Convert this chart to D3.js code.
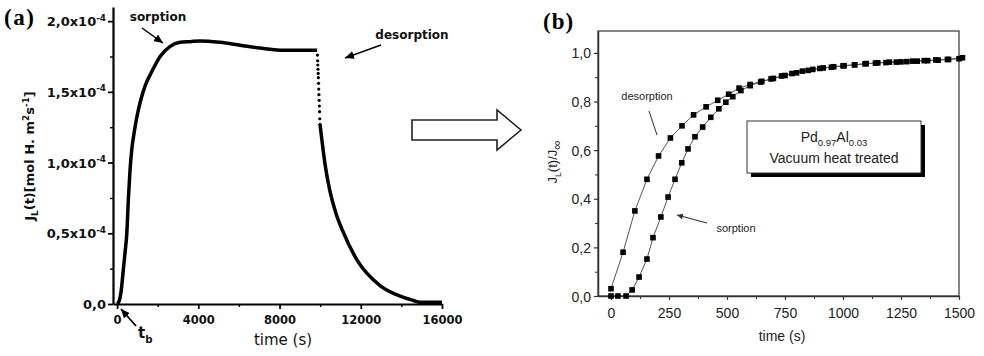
<!DOCTYPE html>
<html>
<head>
<meta charset="utf-8">
<script src="https://cdn.jsdelivr.net/npm/d3@7"></script>
<style>
body { margin: 0; background: #fff; }
</style>
</head>
<body>
<script>
// ---- panel (a): flux J_L(t), units of 1e-4 mol H m-2 s-1
const sorpTime = [0, 100, 200, 300, 390, 480, 560, 640, 730, 850, 1000, 1180, 1400, 1700, 2120, 2600, 3100, 3600, 4090, 5070, 6060, 7040, 8030, 9010, 9850];
const sorpFlux = [0, 0.02, 0.09, 0.23, 0.36, 0.5, 0.75, 0.95, 1.1, 1.22, 1.34, 1.45, 1.55, 1.64, 1.75, 1.82, 1.85, 1.855, 1.86, 1.85, 1.83, 1.81, 1.795, 1.795, 1.795];
// fast drop at the start of desorption (seen as separate dots)
const dropTime = [9865, 9875, 9884, 9893, 9903, 9912, 9921, 9930, 9940, 9950, 9960, 9971, 9983, 9995];
const dropFlux = [1.76, 1.72, 1.69, 1.66, 1.63, 1.6, 1.56, 1.52, 1.48, 1.44, 1.4, 1.36, 1.31, 1.27];
const desTime = [9995, 10250, 10480, 10780, 11100, 11820, 12950, 13940, 14580, 14900, 15400, 16000];
const desFlux = [1.27, 0.98, 0.8, 0.64, 0.52, 0.31, 0.13, 0.055, 0.025, 0.012, 0.012, 0.012];
const xTicksA = [0, 4000, 8000, 12000, 16000];
const xMinorA = [2000, 6000, 10000, 14000];
const yTicksA = [0, 0.5, 1.0, 1.5, 2.0];
const yMinorA = [0.25, 0.75, 1.25, 1.75];

// ---- panel (b): normalised flux J_L(t)/J_inf
const sorpTimeB = [0, 30, 65, 91, 121, 155, 181, 215, 246, 276, 305, 332, 362, 395, 430, 465, 495, 525, 560, 600, 645, 690, 735, 780, 825, 870, 915, 960, 1005, 1050, 1095, 1140, 1185, 1230, 1275, 1320, 1365, 1410, 1455, 1500];
const sorpValB = [0, 0, 0, 0.025, 0.078, 0.152, 0.24, 0.325, 0.407, 0.48, 0.548, 0.605, 0.655, 0.695, 0.735, 0.77, 0.797, 0.82, 0.845, 0.865, 0.88, 0.893, 0.905, 0.915, 0.925, 0.932, 0.938, 0.943, 0.947, 0.951, 0.955, 0.958, 0.96, 0.962, 0.964, 0.966, 0.968, 0.97, 0.973, 0.976];
const desTimeB = [0, 52, 103, 155, 205, 256, 306, 356, 410, 460, 507, 552, 600, 650, 700, 750, 800, 850, 900, 950, 1000, 1050, 1100, 1150, 1200, 1250, 1300, 1350, 1400, 1450, 1515];
const desValB = [0.03, 0.18, 0.35, 0.48, 0.576, 0.65, 0.7, 0.745, 0.778, 0.805, 0.83, 0.855, 0.87, 0.883, 0.895, 0.907, 0.918, 0.928, 0.936, 0.941, 0.947, 0.951, 0.956, 0.959, 0.962, 0.963, 0.966, 0.968, 0.971, 0.973, 0.98];
const xTicksB = [0, 250, 500, 750, 1000, 1250, 1500];
const xMinorB = [125, 375, 625, 875, 1125, 1375];
const yTicksB = [0, 0.2, 0.4, 0.6, 0.8, 1.0];
const yMinorB = [0.1, 0.3, 0.5, 0.7, 0.9];

const width = 984, height = 356;
const fontA = '"DejaVu Sans", sans-serif';
const fontB = '"Liberation Sans", Arial, sans-serif';

const svg = d3.select('body').append('svg')
	.attr('width', width).attr('height', height);

const defs = svg.append('defs');
defs.append('marker').attr('id', 'headA')
	.attr('markerUnits', 'userSpaceOnUse')
	.attr('markerWidth', 10).attr('markerHeight', 8)
	.attr('refX', 9).attr('refY', 4).attr('orient', 'auto')
	.append('path').attr('d', 'M0,0 L9,4 L0,8 Z').attr('fill', '#000');
defs.append('marker').attr('id', 'headB')
	.attr('markerUnits', 'userSpaceOnUse')
	.attr('markerWidth', 7).attr('markerHeight', 6)
	.attr('refX', 6).attr('refY', 3).attr('orient', 'auto')
	.append('path').attr('d', 'M0,0 L6,3 L0,6 Z').attr('fill', '#333');

// text with sub/superscripts
function richText(sel, parts, size) {
	let cur = 0;
	parts.forEach(p => {
		const off = p.s === 'sub' ? size * 0.3 : p.s === 'sup' ? -size * 0.42 : 0;
		sel.append('tspan')
			.attr('dy', off - cur)
			.attr('font-size', p.size || (p.s ? size * 0.68 : size))
			.text(p.t);
		cur = off;
	});
	return sel;
}

function styleAxis(g, w, color) {
	g.select('.domain').attr('stroke', color).attr('stroke-width', w);
	g.selectAll('.tick line').attr('stroke', color).attr('stroke-width', w * 0.8);
}

// ================= panel (a) =================
const xa = d3.scaleLinear().domain([-200, 16000]).range([113, 442]);
const ya = d3.scaleLinear().domain([0, 2.1]).range([304, 7]);

svg.append('g')
	.attr('transform', `translate(0,${ya(0)})`)
	.call(d3.axisBottom(xa).tickValues(xMinorA).tickSize(3).tickFormat(''))
	.call(g => g.select('.domain').remove())
	.call(g => styleAxis(g, 1.8, '#000'));
svg.append('g')
	.attr('transform', `translate(${xa.range()[0]},0)`)
	.call(d3.axisLeft(ya).tickValues(yMinorA).tickSize(3).tickFormat(''))
	.call(g => g.select('.domain').remove())
	.call(g => styleAxis(g, 1.8, '#000'));

const gxa = svg.append('g')
	.attr('transform', `translate(0,${ya(0)})`)
	.call(d3.axisBottom(xa).tickValues(xTicksA).tickSize(5).tickSizeOuter(0).tickFormat(d => String(d)))
	.call(g => styleAxis(g, 2.2, '#000'));
gxa.attr('font-family', fontA).attr('font-size', 11.5).attr('font-weight', 'bold');
gxa.selectAll('text').attr('y', 20).attr('dy', 0).attr('fill', '#111');

const gya = svg.append('g')
	.attr('transform', `translate(${xa.range()[0]},0)`)
	.call(d3.axisLeft(ya).tickValues(yTicksA).tickSize(5).tickSizeOuter(0).tickFormat(''))
	.call(g => styleAxis(g, 2.2, '#000'));
gya.attr('font-family', fontA).attr('font-weight', 'bold');
gya.selectAll('.tick').each(function(d) {
	const t = d3.select(this).append('text')
		.attr('x', -7).attr('y', 4.5)
		.attr('text-anchor', 'end').attr('fill', '#111');
	if (d === 0) richText(t, [{t: '0,0'}], 13);
	else richText(t, [{t: d.toFixed(1).replace('.', ',') + 'x10'}, {t: '-4', s: 'sup'}], 13);
});

// curve
const lineA = d3.line().x(d => xa(d[0])).y(d => ya(d[1])).curve(d3.curveMonotoneX);
svg.append('path')
	.attr('d', lineA(sorpTime.map((t, i) => [t, sorpFlux[i]])))
	.attr('fill', 'none').attr('stroke', '#000').attr('stroke-width', 3.5);
svg.append('path')
	.attr('d', lineA(desTime.map((t, i) => [t, desFlux[i]])))
	.attr('fill', 'none').attr('stroke', '#000').attr('stroke-width', 3.5);
svg.append('g').selectAll('circle')
	.data(dropTime.map((t, i) => [t, dropFlux[i]]))
	.join('circle')
	.attr('cx', d => xa(d[0])).attr('cy', d => ya(d[1]))
	.attr('r', 1.6).attr('fill', '#000');

// labels (a)
svg.append('text').attr('x', 4).attr('y', 25)
	.attr('font-family', '"Liberation Serif", "Times New Roman", serif')
	.attr('font-weight', 'bold').attr('font-size', 23).attr('letter-spacing', 1.5)
	.text('(a)');
svg.append('text')
	.attr('transform', 'translate(34,156) rotate(-90)')
	.attr('text-anchor', 'middle')
	.attr('font-family', fontA).attr('font-weight', 'bold').attr('fill', '#111')
	.call(t => richText(t, [
		{t: 'J'}, {t: 'L', s: 'sub'}, {t: '(t)[mol H. m'}, {t: '2', s: 'sup'},
		{t: 's'}, {t: '-1', s: 'sup'}, {t: ']'}
	], 13));
svg.append('text').attr('x', 283).attr('y', 345)
	.attr('text-anchor', 'middle')
	.attr('font-family', fontA).attr('font-size', 15).attr('fill', '#111')
	.text('time (s)');

const annA = svg.append('g').attr('font-family', fontA).attr('font-weight', 'bold')
	.attr('font-size', 12).attr('fill', '#111');
annA.append('text').attr('x', 158).attr('y', 21).attr('text-anchor', 'middle').text('sorption');
annA.append('text').attr('x', 412).attr('y', 39).attr('text-anchor', 'middle').text('desorption');
annA.append('text').attr('x', 138).attr('y', 338)
	.call(t => richText(t, [{t: 't'}, {t: 'b', s: 'sub'}], 15));
svg.append('line').attr('x1', 142).attr('y1', 28).attr('x2', 163).attr('y2', 43)
	.attr('stroke', '#000').attr('stroke-width', 1.5).attr('marker-end', 'url(#headA)');
svg.append('line').attr('x1', 381).attr('y1', 45).attr('x2', 345).attr('y2', 58)
	.attr('stroke', '#000').attr('stroke-width', 1.5).attr('marker-end', 'url(#headA)');
svg.append('line').attr('x1', 136).attr('y1', 326).attr('x2', 121).attr('y2', 309)
	.attr('stroke', '#000').attr('stroke-width', 1.8).attr('marker-end', 'url(#headA)');

// hollow arrow between panels
svg.append('path')
	.attr('d', 'M412,120 L497,120 L497,110 L521,130 L497,150 L497,140 L412,140 Z')
	.attr('fill', '#fff').attr('stroke', '#222').attr('stroke-width', 1.6);

// ================= panel (b) =================
const xb = d3.scaleLinear().domain([-56, 1500]).range([598, 959]);
const yb = d3.scaleLinear().domain([0, 1.09]).range([296, 31]);

svg.append('rect')
	.attr('x', 598).attr('y', 31).attr('width', 361).attr('height', 265)
	.attr('fill', 'none').attr('stroke', '#444').attr('stroke-width', 1.3);

svg.append('g')
	.attr('transform', `translate(0,${yb(0)})`)
	.call(d3.axisBottom(xb).tickValues(xMinorB).tickSize(3).tickFormat(''))
	.call(g => g.select('.domain').remove())
	.call(g => styleAxis(g, 1.3, '#333'));
svg.append('g')
	.attr('transform', `translate(${xb.range()[0]},0)`)
	.call(d3.axisLeft(yb).tickValues(yMinorB).tickSize(3).tickFormat(''))
	.call(g => g.select('.domain').remove())
	.call(g => styleAxis(g, 1.3, '#333'));

const gxb = svg.append('g')
	.attr('transform', `translate(0,${yb(0)})`)
	.call(d3.axisBottom(xb).tickValues(xTicksB).tickSize(4).tickSizeOuter(0).tickFormat(d => String(d)))
	.call(g => styleAxis(g, 1.5, '#333'));
gxb.attr('font-family', fontB).attr('font-size', 14);
gxb.selectAll('text').attr('y', 22).attr('dy', 0).attr('fill', '#222');

const gyb = svg.append('g')
	.attr('transform', `translate(${xb.range()[0]},0)`)
	.call(d3.axisLeft(yb).tickValues(yTicksB).tickSize(4).tickSizeOuter(0)
		.tickFormat(d => d.toFixed(1).replace('.', ',')))
	.call(g => styleAxis(g, 1.5, '#333'));
gyb.attr('font-family', fontB).attr('font-size', 14);
gyb.selectAll('text').attr('x', -7).attr('dy', '0.36em').attr('fill', '#222');

const lineB = d3.line().x(d => xb(d[0])).y(d => yb(d[1]));
const seriesB = [
	sorpTimeB.map((t, i) => [t, sorpValB[i]]),
	desTimeB.map((t, i) => [t, desValB[i]])
];
seriesB.forEach(s => {
	svg.append('path').attr('d', lineB(s))
		.attr('fill', 'none').attr('stroke', '#555').attr('stroke-width', 1);
});
seriesB.forEach(s => {
	svg.append('g').selectAll('rect')
		.data(s).join('rect')
		.attr('x', d => xb(d[0]) - 2.8).attr('y', d => yb(d[1]) - 2.8)
		.attr('width', 5.6).attr('height', 5.6).attr('fill', '#000');
});

// labels (b)
svg.append('text').attr('x', 543).attr('y', 29)
	.attr('font-family', '"Liberation Serif", "Times New Roman", serif')
	.attr('font-weight', 'bold').attr('font-size', 23).attr('letter-spacing', 1)
	.text('(b)');
svg.append('text')
	.attr('transform', 'translate(557,162) rotate(-90)')
	.attr('text-anchor', 'middle')
	.attr('font-family', fontB).attr('fill', '#222')
	.call(t => richText(t, [{t: 'J'}, {t: 'L', s: 'sub'}, {t: '(t)/J'}, {t: '∞', s: 'sub', size: 13}], 13));
svg.append('text').attr('x', 782).attr('y', 341)
	.attr('text-anchor', 'middle')
	.attr('font-family', fontB).attr('font-size', 14).attr('fill', '#222')
	.text('time (s)');

const annB = svg.append('g').attr('font-family', fontB).attr('font-size', 11).attr('fill', '#222');
annB.append('text').attr('x', 647).attr('y', 100).attr('text-anchor', 'middle').text('desorption');
annB.append('text').attr('x', 736).attr('y', 232).attr('text-anchor', 'middle').text('sorption');
svg.append('line').attr('x1', 649).attr('y1', 111).attr('x2', 657).attr('y2', 135)
	.attr('stroke', '#333').attr('stroke-width', 1);
svg.append('line').attr('x1', 707).attr('y1', 223).attr('x2', 677).attr('y2', 215)
	.attr('stroke', '#333').attr('stroke-width', 1.1).attr('marker-end', 'url(#headB)');

// legend box with shadow
svg.append('rect').attr('x', 751).attr('y', 125).attr('width', 174).attr('height', 52).attr('fill', '#000');
svg.append('rect').attr('x', 747).attr('y', 121).attr('width', 174).attr('height', 52)
	.attr('fill', '#fff').attr('stroke', '#333').attr('stroke-width', 1);
svg.append('text').attr('x', 834).attr('y', 142).attr('text-anchor', 'middle')
	.attr('font-family', fontB).attr('fill', '#222')
	.call(t => richText(t, [{t: 'Pd'}, {t: '0.97', s: 'sub'}, {t: 'Al'}, {t: '0.03', s: 'sub'}], 14));
svg.append('text').attr('x', 834).attr('y', 163).attr('text-anchor', 'middle')
	.attr('font-family', fontB).attr('font-size', 14).attr('fill', '#222')
	.text('Vacuum heat treated');
</script>
</body>
</html>
